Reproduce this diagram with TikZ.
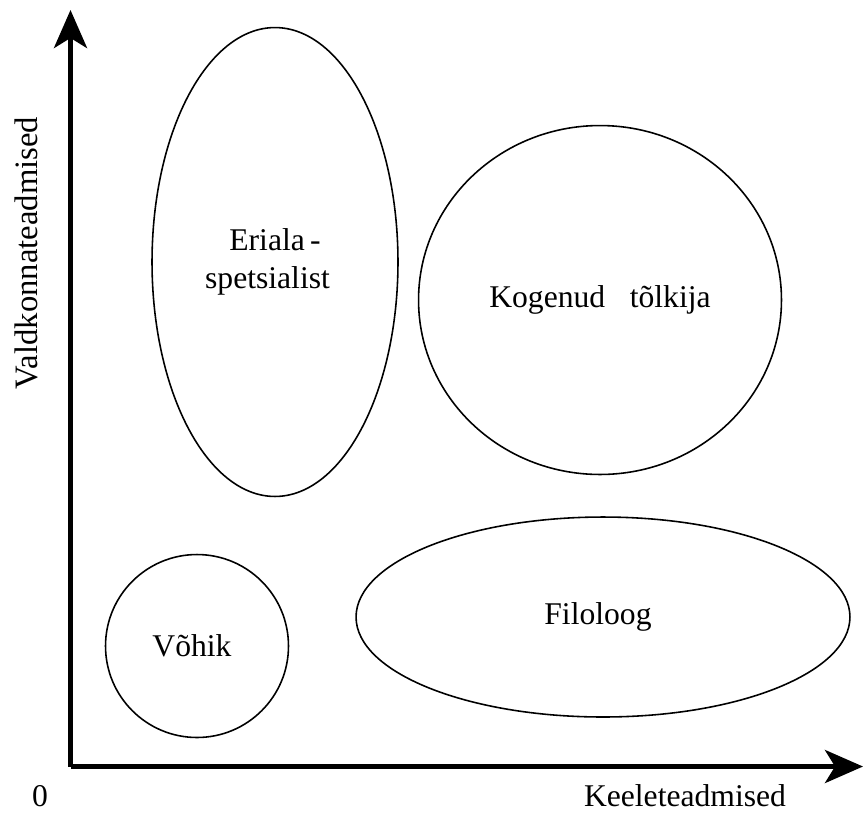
\documentclass[tikz,border=0pt]{standalone}
\usepackage{fontspec}
\setmainfont{Liberation Serif}
\usetikzlibrary{shapes.geometric, arrows.meta}
\tikzset{
    % Ellipse styles for the groups
    group/.style={
        ellipse,
        draw=black,
        line width=0.9pt,
        inner sep=0pt,
        align=center,
        font=\fontsize{18}{22}\selectfont
    },
    axis style/.style={
        -{Stealth[length=0.76cm, width=0.66cm, inset=0.2cm]},
        line width=2.8pt,
        black
    },
    axis label/.style={
        inner sep=0pt,
        font=\fontsize{18}{22}\selectfont
    }
}
\begin{document}
\begin{tikzpicture}[x=0.02cm, y=-0.02cm]
        \useasboundingbox (0,0) rectangle (864,812);

        % Axes
        \coordinate (origin) at (70.5,766.5);
        \coordinate (ytop) at (70.5,10);
        \coordinate (xend) at (863,766.5);
        \draw[axis style] (origin) -- (ytop);
        \draw[axis style] (origin) -- (xend);

        % Axis labels
        \node[axis label, rotate=90, font=\fontsize{18.6}{22}\selectfont] (ylabel) at (26,253) {Valdkonnateadmised};
        \node[axis label, anchor=base] (xlabel) at (685,806) {Keeleteadmised};
        \node[axis label, anchor=base] (zero) at (40,806) {0};

        % Groups
        \node[group, minimum width=4.92cm, minimum height=9.38cm] (eriala) at (275,262) {\raisebox{-0.16cm}{Eriala\,-}\\\raisebox{-0.16cm}{spetsialist\hspace{0.3cm}}};
        \node[group, minimum width=7.26cm, minimum height=6.98cm] (tolkija) at (600,300) {\raisebox{-0.06cm}{Kogenud\hspace{14pt}t\~olkija}};
        \node[group, minimum width=9.88cm, minimum height=4.0cm] (filoloog) at (603,617) {\raisebox{0.12cm}{Filoloog}\hspace{0.2cm}};
        \node[group, minimum width=3.66cm, minimum height=3.66cm] (vohik) at (197,646) {V\~ohik\hspace{0.2cm}};
    \end{tikzpicture}
\end{document}
